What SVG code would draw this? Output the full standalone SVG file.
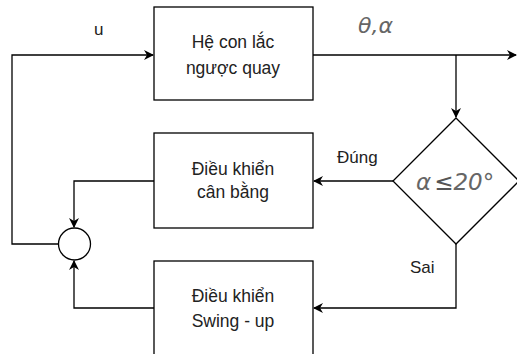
<svg xmlns="http://www.w3.org/2000/svg" width="517" height="354" viewBox="0 0 517 354">
<style>
.box{fill:#fff;stroke:#000;stroke-width:1.3}
.t{font-family:"Liberation Sans",Arial,sans-serif;font-size:17.5px;fill:#222;text-anchor:middle}
.lbl{font-family:"Liberation Sans",Arial,sans-serif;font-size:17px;fill:#222}
.m{font-family:"DejaVu Sans","Liberation Sans",sans-serif;font-style:italic;fill:#666}
.c{fill:none;stroke:#000;stroke-width:1.3}
</style>
<defs>
<marker id="a" viewBox="0 0 10 10" refX="9" refY="5" markerWidth="10" markerHeight="10" markerUnits="userSpaceOnUse" orient="auto">
<path d="M0,0 L10,5 L0,10 L3,5 Z" fill="#000"/>
</marker>
</defs>
<rect width="517" height="354" fill="#fff"/>
<g id="connectors">
<path class="c" d="M313,55 H516" marker-end="url(#a)"/>
<path class="c" d="M456,55 V117" marker-end="url(#a)"/>
<path class="c" d="M393,181 H314" marker-end="url(#a)"/>
<path class="c" d="M456,244 V308 H314" marker-end="url(#a)"/>
<path class="c" d="M154,181 H74 V227" marker-end="url(#a)"/>
<path class="c" d="M154,308 H74 V261" marker-end="url(#a)"/>
<path class="c" d="M58,244 H12 V55 H153" marker-end="url(#a)"/>
</g>
<g id="plant">
<rect class="box" x="154" y="7" width="159" height="93"/>
<text class="t" x="233" y="48">Hệ con lắc</text>
<text class="t" x="233" y="74">ngược quay</text>
</g>
<g id="balance">
<rect class="box" x="154" y="133" width="159" height="95"/>
<text class="t" x="233" y="175">Điều khiển</text>
<text class="t" x="233" y="198">cân bằng</text>
</g>
<g id="swingup">
<rect class="box" x="154" y="261" width="159" height="95"/>
<text class="t" x="233" y="302">Điều khiển</text>
<text class="t" x="233" y="327">Swing - up</text>
</g>
<g id="sum">
<circle cx="74.5" cy="244" r="16" fill="#fff" stroke="#000" stroke-width="1.3"/>
</g>
<g id="decision">
<path d="M456,118 L519,181 L456,244 L393,181 Z" fill="#fff" stroke="#000" stroke-width="1.3"/>
<text class="m" x="416" y="190" font-size="23">α<tspan dx="3" fill="#555">≤</tspan>20°</text>
</g>
<g id="labels">
<text class="lbl" x="94" y="35">u</text>
<text class="m" x="358" y="33" font-size="22">θ,α</text>
<text class="lbl" x="337" y="163">Đúng</text>
<text class="lbl" x="410" y="273">Sai</text>
</g>
</svg>
